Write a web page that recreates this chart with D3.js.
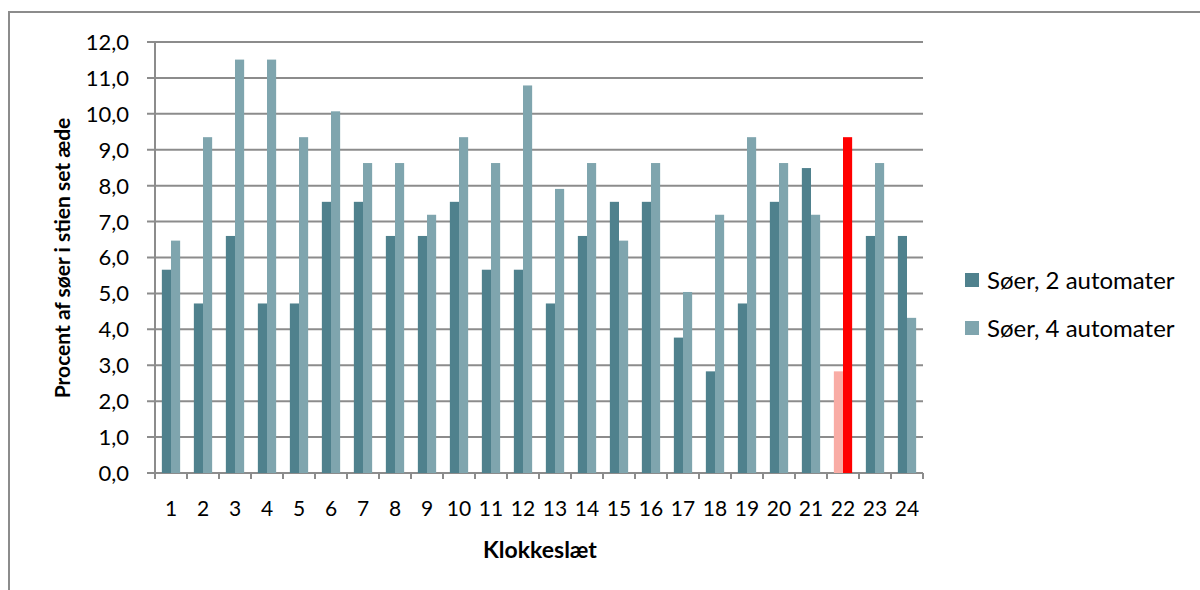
<!DOCTYPE html>
<html>
<head>
<meta charset="utf-8">
<script src="https://cdn.jsdelivr.net/npm/d3@7"></script>
<style>
  body { margin: 0; background: #fff; }
  text { font-family: Lato, "Open Sans", sans-serif; fill: #000; }
</style>
</head>
<body>
<script>
// data
var hours = d3.range(1, 25).map(String);
var soer2 = [5.66, 4.72, 6.60, 4.72, 4.72, 7.55, 7.55, 6.60, 6.60, 7.55, 5.66, 5.66,
             4.72, 6.60, 7.55, 7.55, 3.77, 2.83, 4.72, 7.55, 8.49, 2.83, 6.60, 6.60];
var soer4 = [6.47, 9.35, 11.51, 11.51, 9.35, 10.07, 8.63, 8.63, 7.19, 9.35, 8.63, 10.79,
             7.91, 8.63, 6.47, 8.63, 5.04, 7.19, 9.35, 8.63, 7.19, 9.35, 8.63, 4.32];
var seriesNames = ["Søer, 2 automater", "Søer, 4 automater"];
var yTicks = d3.range(0, 13);
var highlight = "22";

var w = 1200, h = 590;
var margin = {left: 155, top: 42, right: 923, bottom: 473};

var svg = d3.select("body").append("svg")
  .attr("width", w).attr("height", h);

// outer frame (runs off the right and bottom edge)
svg.append("rect")
  .attr("x", 9).attr("y", 12)
  .attr("width", 1300).attr("height", 700)
  .attr("fill", "none").attr("stroke", "#8c8c8c").attr("stroke-width", 2);

var x = d3.scaleBand().domain(hours).range([margin.left, margin.right]);
var y = d3.scaleLinear().domain([0, 12]).range([margin.bottom, margin.top]);

var bw = x.bandwidth() / 3.5;   // gap width 150%

// gridlines
svg.append("g").selectAll("line")
  .data(yTicks)
  .enter().append("line")
  .attr("x1", margin.left - 8).attr("x2", margin.right)
  .attr("y1", function(d){ return y(d); })
  .attr("y2", function(d){ return y(d); })
  .attr("stroke", "#8c8c8c").attr("stroke-width", 2);

// y labels
svg.append("g").selectAll("text")
  .data(yTicks)
  .enter().append("text")
  .attr("x", 129)
  .attr("y", function(d){ return y(d); })
  .attr("dy", "0.36em")
  .attr("text-anchor", "end")
  .style("font-size", "22px")
  .text(function(d){ return d.toFixed(1).replace(".", ","); });

// bars
var rows = hours.map(function(hr, i){ return {hr: hr, a: soer2[i], b: soer4[i]}; });

var groups = svg.append("g").selectAll("g")
  .data(rows)
  .enter().append("g");

groups.append("rect")
  .attr("x", function(d){ return x(d.hr) + 0.75 * bw; })
  .attr("y", function(d){ return y(d.a); })
  .attr("width", bw)
  .attr("height", function(d){ return y(0) - y(d.a); })
  .attr("fill", function(d){ return d.hr == highlight ? "#f9aca5" : "#4f818d"; });

groups.append("rect")
  .attr("x", function(d){ return x(d.hr) + 1.75 * bw; })
  .attr("y", function(d){ return y(d.b); })
  .attr("width", bw)
  .attr("height", function(d){ return y(0) - y(d.b); })
  .attr("fill", function(d){ return d.hr == highlight ? "#ff0000" : "#7fa5ae"; });

// axes lines
svg.append("line")
  .attr("x1", margin.left).attr("x2", margin.left)
  .attr("y1", margin.top).attr("y2", margin.bottom + 5)
  .attr("stroke", "#8c8c8c").attr("stroke-width", 2);

svg.append("g").selectAll("line")
  .data(hours.concat(["end"]))
  .enter().append("line")
  .attr("x1", function(d){ return d == "end" ? margin.right : x(d); })
  .attr("x2", function(d){ return d == "end" ? margin.right : x(d); })
  .attr("y1", margin.bottom).attr("y2", margin.bottom + 6)
  .attr("stroke", "#8c8c8c").attr("stroke-width", 2);

// x labels
svg.append("g").selectAll("text")
  .data(hours)
  .enter().append("text")
  .attr("x", function(d){ return x(d) + x.bandwidth() / 2; })
  .attr("y", 508)
  .attr("dy", "0.36em")
  .attr("text-anchor", "middle")
  .style("font-size", "21px")
  .text(function(d){ return d; });

// axis titles
svg.append("text")
  .attr("x", 540).attr("y", 550)
  .attr("dy", "0.36em")
  .attr("text-anchor", "middle")
  .style("font-size", "23px").style("font-weight", "bold")
  .text("Klokkeslæt");

svg.append("text")
  .attr("transform", "translate(62,258) rotate(-90)")
  .attr("dy", "0.36em")
  .attr("text-anchor", "middle")
  .style("font-size", "21px").style("font-weight", "bold")
  .text("Procent af søer i stien set æde");

// legend
var legend = svg.append("g").selectAll("g")
  .data(seriesNames)
  .enter().append("g")
  .attr("transform", function(d, i){ return "translate(965," + (280 + i * 48) + ")"; });

legend.append("rect")
  .attr("x", 0).attr("y", -7)
  .attr("width", 14).attr("height", 14)
  .attr("fill", function(d, i){ return i == 0 ? "#4f818d" : "#7fa5ae"; });

legend.append("text")
  .attr("x", 22).attr("y", 0)
  .attr("dy", "0.36em")
  .style("font-size", "24px")
  .text(function(d){ return d; });
</script>
</body>
</html>
